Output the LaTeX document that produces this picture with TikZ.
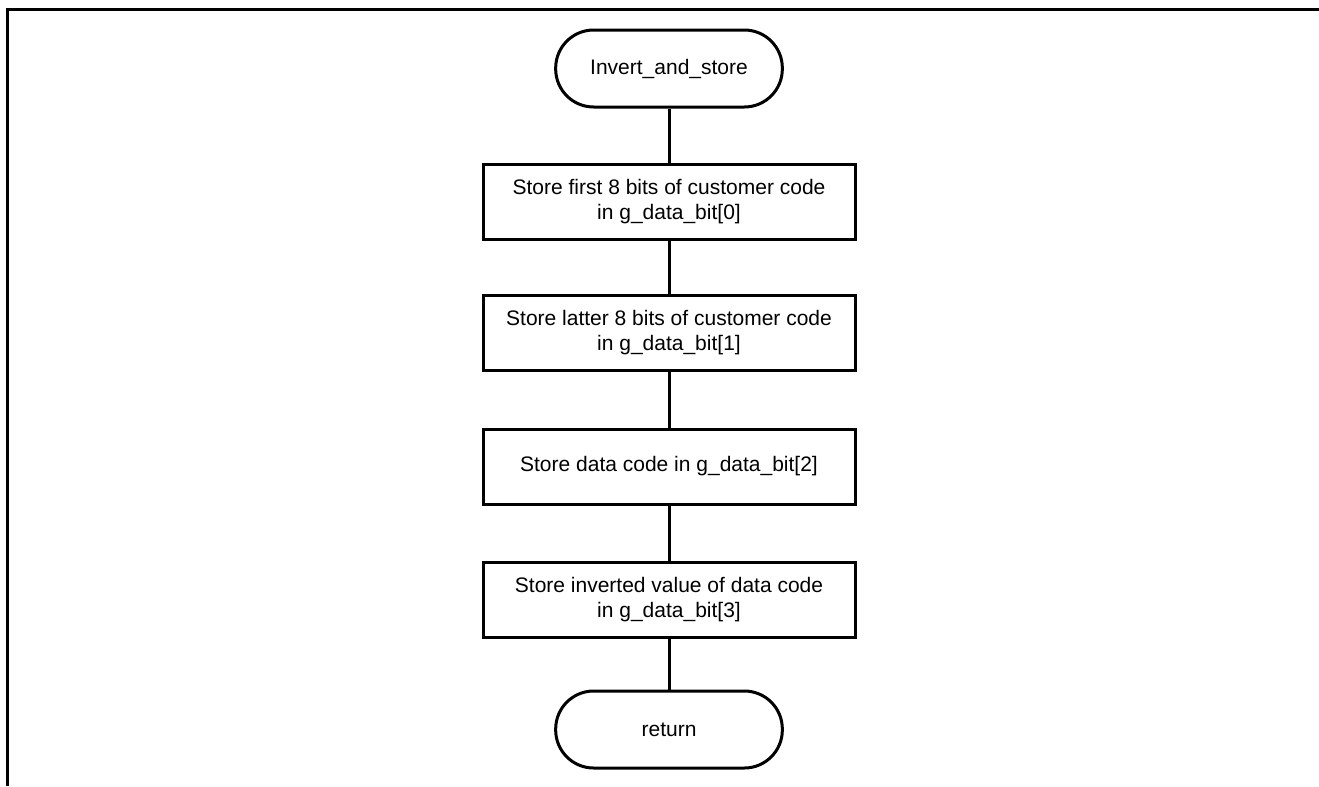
\documentclass[tikz,border=0pt]{standalone}
\usepackage{fontspec}
\setmainfont{Liberation Sans}
\usepackage{tikz}
\tikzset{
  flowtext/.style={font=\fontsize{15.75}{18.75}\selectfont, align=center, inner sep=0.75pt},
  terminal/.style={flowtext, draw, line width=2.25pt, rectangle, rounded corners=28.5pt, minimum width=170pt, minimum height=57.75pt},
  process/.style={flowtext, draw, line width=2.25pt, rectangle, minimum width=279pt, minimum height=56.25pt},
  flowline/.style={line width=2.25pt}
}

\begin{document}
\begin{tikzpicture}[x=0.75pt,y=0.75pt,yscale=-1,xscale=1]
    \useasboundingbox (0,0) rectangle (1319,786);
    
    %Shape: page frame
    \draw [line width=2.25pt] (7,786) -- (7,9) -- (1319,9) ;
    
    %Shape: start terminal
    \node [terminal] (start) at (669,68.5) {Invert\_and\_store};
    %Shape: process boxes
    \node [process] (first) at (669,201.5) {Store first 8 bits of customer code\\in g\_data\_bit[0]};
    \node [process] (latter) at (669,332.5) {Store latter 8 bits of customer code\\in g\_data\_bit[1]};
    \node [process] (datacode) at (669,466.5) {Store data code in g\_data\_bit[2]};
    \node [process] (inverted) at (669,599.5) {Store inverted value of data code\\in g\_data\_bit[3]};
    %Shape: end terminal
    \node [terminal] (ret) at (669,729.5) {return};
    
    % Connectors
    \draw [flowline] (start) -- (first) ;
    \draw [flowline] (first) -- (latter) ;
    \draw [flowline] (latter) -- (datacode) ;
    \draw [flowline] (datacode) -- (inverted) ;
    \draw [flowline] (inverted) -- (ret) ;
    
\end{tikzpicture}
\end{document}
